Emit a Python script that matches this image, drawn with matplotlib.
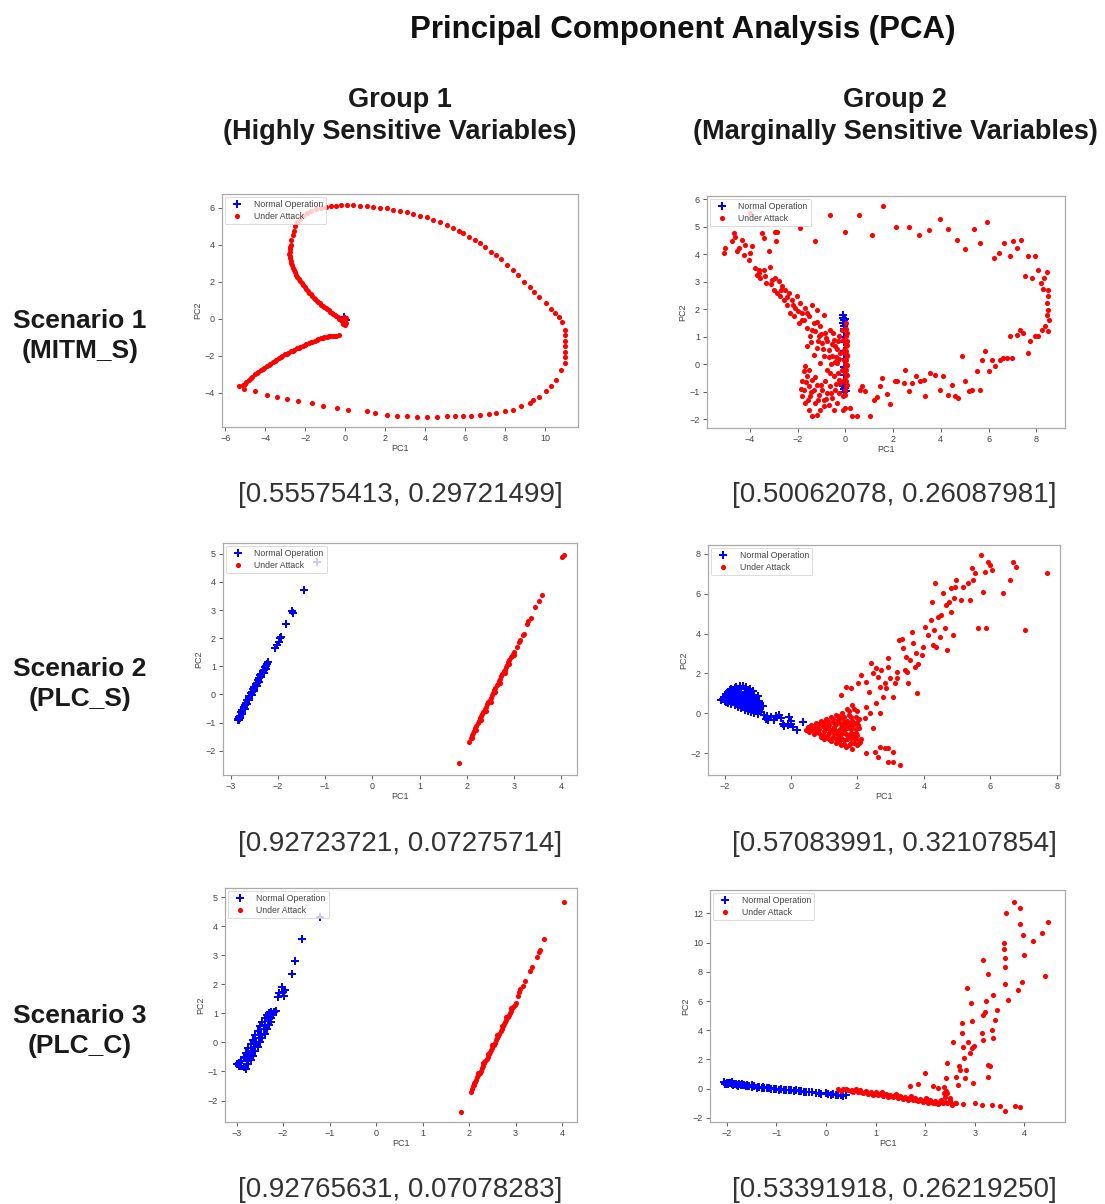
import matplotlib
matplotlib.use("Agg")
import matplotlib.pyplot as plt

plt.rcParams['font.family'] = ['Liberation Sans', 'DejaVu Sans']

W, H = 1105, 1204

title = "Principal Component Analysis (PCA)"
col_titles = ["Group 1\n(Highly Sensitive Variables)", "Group 2\n(Marginally Sensitive Variables)"]
row_titles = ["Scenario 1\n(MITM_S)", "Scenario 2\n(PLC_S)", "Scenario 3\n(PLC_C)"]
variance = [["[0.55575413, 0.29721499]", "[0.50062078, 0.26087981]"],
            ["[0.92723721, 0.07275714]", "[0.57083991, 0.32107854]"],
            ["[0.92765631, 0.07078283]", "[0.53391918, 0.26219250]"]]
legend_labels = ["Normal Operation", "Under Attack"]

# ---------------- Scenario 1, Group 1 ----------------
s1g1_normal_x = [0.0, -0.05, 0.02]
s1g1_normal_y = [0.0, 0.1, -0.1]
s1g1_attack = [
    (-0.05,-0.3),(-0.15,-0.15),(-0.3,0.0),(-0.45,0.12),(-0.6,0.25),(-0.75,0.38),(-0.9,0.5),(-1.05,0.62),
    (-1.2,0.75),(-1.35,0.9),(-1.5,1.05),(-1.65,1.22),(-1.8,1.4),(-1.95,1.6),(-2.1,1.8),(-2.25,2.02),
    (-2.4,2.25),(-2.52,2.5),(-2.62,2.75),(-2.7,3.0),(-2.76,3.25),(-2.8,3.5),(-2.78,3.75),(-2.74,4.0),
    (-2.7,4.25),(-2.64,4.5),(-2.58,4.75),(-2.5,5.0),(-2.4,5.2),(-2.25,5.4),(-2.1,5.55),(-1.9,5.7),
    (-1.7,5.82),(-1.45,5.92),(-1.2,6.0),(-0.95,6.05),(-0.7,6.08),(-0.45,6.1),(-0.2,6.12),(0.07,6.13),
    (-0.22,-0.08),(-0.38,0.06),(-0.52,0.19),(-0.68,0.31),(-0.82,0.44),(-0.98,0.56),(-1.12,0.69),
    (-1.28,0.82),(-1.42,0.97),(-1.58,1.13),(-1.72,1.31),(-1.88,1.5),(-2.02,1.7),(-2.18,1.91),(-2.32,2.13),
    (-2.46,2.37),(-2.57,2.62),(-2.66,2.87),(-2.73,3.12),(-2.79,3.38),(-2.79,3.62),(-2.76,3.88),
    (0.0,-0.1),(0.02,0.05),(-0.05,-0.2),(0.0,-0.35),(-0.1,-0.3),(0.03,-0.25),(-0.08,0.08),
    (0.4,6.12),(0.75,6.1),(1.06,6.08),(1.4,6.03),(1.75,6.0),(2.06,5.95),(2.4,5.88),(2.75,5.82),
    (3.06,5.77),(3.4,5.65),(3.75,5.55),(4.06,5.47),(4.4,5.3),(4.75,5.2),(5.06,5.05),(5.4,4.9),
    (5.7,4.72),(5.89,4.6),(6.2,4.42),(6.5,4.22),(6.72,4.06),(7.0,3.85),(7.3,3.62),(7.55,3.43),
    (7.8,3.2),(8.1,2.9),(8.39,2.63),(8.65,2.35),(8.95,2.0),(9.22,1.73),(9.45,1.45),(9.7,1.15),
    (10.05,0.83),(10.3,0.5),(10.5,0.3),(10.7,0.1),(10.85,-0.2),(10.96,-0.61),(11.0,-0.9),(11.0,-1.2),
    (11.0,-1.51),(11.0,-1.8),(10.96,-2.1),(10.96,-2.41),(10.8,-2.8),(10.55,-3.31),(10.3,-3.65),
    (10.05,-3.94),(9.7,-4.25),(9.4,-4.4),(9.22,-4.57),(8.8,-4.75),(8.39,-4.93),(8.0,-5.0),(7.55,-5.11),
    (7.2,-5.15),(6.72,-5.2),(6.3,-5.25),(5.89,-5.29),(5.5,-5.27),(5.06,-5.29),(4.6,-5.3),(4.06,-5.32),
    (3.6,-5.3),(3.06,-5.29),(2.6,-5.25),(2.06,-5.2),(1.5,-5.1),(1.06,-5.02),(0.15,-4.93),(-0.43,-4.84),
    (-1.1,-4.75),(-1.68,-4.57),(-2.35,-4.48),(-2.93,-4.35),(-3.43,-4.26),(-3.93,-4.14),(-4.51,-3.94),
    (-5.09,-3.81),(-5.34,-3.67),
    (-5.1,-3.6),(-4.95,-3.45),(-4.8,-3.3),(-4.65,-3.15),(-4.5,-3.02),(-4.35,-2.9),(-4.2,-2.78),
    (-4.05,-2.66),(-3.9,-2.55),(-3.75,-2.44),(-3.6,-2.33),(-3.45,-2.23),(-3.3,-2.13),(-3.15,-2.03),
    (-3.0,-1.94),(-2.85,-1.85),(-2.7,-1.77),(-2.55,-1.69),(-2.4,-1.61),(-2.25,-1.53),(-2.1,-1.46),
    (-1.95,-1.39),(-1.8,-1.32),(-1.65,-1.25),(-1.5,-1.19),(-1.35,-1.13),(-1.2,-1.07),(-1.05,-1.02),
    (-0.9,-0.98),(-0.75,-0.95),(-0.6,-0.93),(-0.45,-0.92),(-0.33,-0.9),
    (-5.02,-3.52),(-4.72,-3.22),(-4.42,-2.96),(-4.12,-2.72),(-3.82,-2.5),(-3.52,-2.28),(-3.22,-2.08),
    (-2.92,-1.9),(-2.62,-1.73),(-2.32,-1.57),(-2.02,-1.42),(-1.72,-1.28),(-1.42,-1.16),(-1.12,-1.04),
    (-0.82,-0.96),(-0.52,-0.92),
]

# ---------------- Scenario 1, Group 2 ----------------
s1g2_normal = [
    (-0.08,1.8),(-0.08,1.7),(-0.06,1.6),(-0.08,1.5),(-0.05,1.4),(-0.07,1.3),(-0.05,1.2),(-0.06,1.0),
    (-0.05,0.8),(-0.06,0.5),(-0.05,0.2),(-0.06,-0.1),(-0.05,-0.4),(-0.07,-0.6),(-0.05,-0.7),(-0.08,-0.8),
    (-0.04,-0.9),(-0.06,-1.0),(0.02,-0.95),(0.0,-0.85),(-0.02,1.65),
]
s1g2_attack = [
    (-4.0,5.49),(-2.86,4.82),(-1.88,4.94),(-1.26,4.46),(-0.63,5.43),(-0.03,4.82),(0.56,5.43),(1.12,4.7),
    (1.58,5.73),(2.13,5.0),(2.65,5.0),(3.07,4.7),(3.49,4.88),(3.97,5.27),(4.32,4.92),(4.67,4.5),
    (5.02,4.18),(5.37,4.9),(5.62,4.42),(5.93,5.18),(6.21,3.85),(6.42,4.03),(6.65,4.42),(6.88,3.92),
    (7.02,4.46),(7.21,4.22),(7.35,4.5),(7.53,3.19),(7.67,3.92),(7.81,3.14),(7.95,3.94),(8.09,3.43),
    (8.19,2.95),(8.27,2.73),(8.33,3.14),(8.44,3.34),(8.47,2.71),(8.48,2.47),(8.44,2.22),(8.48,1.98),
    (8.44,1.8),(8.51,1.62),(8.37,1.38),(8.48,1.2),(8.23,1.26),(8.09,1.02),(7.95,1.02),(7.74,0.83),
    (7.67,0.41),(7.46,1.14),(7.32,1.26),(7.18,1.08),(6.97,0.23),(6.88,1.02),(6.77,0.23),(6.62,0.23),
    (6.49,0.17),(6.28,-0.07),(6.14,0.17),(6.0,-0.25),(5.86,0.47),(5.72,0.17),(5.51,-0.25),(5.65,-0.92),
    (5.3,-0.92),(5.16,-0.98),(5.02,-0.62),(4.88,0.29),(4.74,-1.22),(4.6,-1.16),(4.46,-0.74),(4.32,-1.1),
    (4.11,-0.44),(3.97,-0.92),(3.77,-0.37),(3.56,-0.31),(3.35,-1.14),(3.28,-0.56),(3.14,-0.62),
    (2.97,-0.44),(2.79,-0.68),(2.65,-0.98),(2.44,-0.68),(2.51,-0.19),(2.16,-0.62),(2.09,-0.62),
    (1.88,-1.44),(1.74,-1.06),(1.53,-0.5),(1.46,-0.77),(1.32,-1.18),(1.19,-1.31),(1.05,-1.89),
    (0.84,-0.98),(0.7,-0.77),(0.6,-0.92),(0.49,-1.89),(0.28,-1.86),(0.21,-1.58),(0.0,-1.58),(-0.1,-1.64),
    (-5.09,4.04),(-5.02,4.22),(-4.74,4.46),(-4.67,4.76),(-4.6,4.64),(-4.53,4.1),(-4.46,4.22),(-4.32,4.52),
    (-4.25,3.98),(-4.18,4.34),(-4.04,3.79),(-3.97,4.04),(-3.91,4.28),(-3.77,3.49),(-3.7,3.25),(-3.63,3.43),
    (-3.56,3.13),(-3.49,4.76),(-3.42,4.58),(-3.42,3.43),(-3.31,2.95),(-3.21,4.1),(-3.14,3.55),(-3.07,3.07),
    (-3.0,2.71),(-2.93,4.82),(-2.89,4.46),(-2.86,2.59),(-2.79,3.01),(-2.72,2.47),(-2.65,2.83),(-2.58,2.35),
    (-2.51,2.71),(-2.44,2.16),(-2.37,2.59),(-2.3,1.86),(-2.23,2.35),(-2.16,1.74),(-2.09,2.04),(-2.02,2.47),
    (-1.95,1.5),(-1.88,2.22),(-1.81,1.86),(-1.74,1.62),(-1.67,2.04),(-1.6,1.32),(-1.53,1.74),(-1.46,1.02),
    (-1.39,2.16),(-1.32,1.5),(-1.26,1.2),(-1.19,1.98),(-1.12,1.02),(-1.05,1.38),(-0.98,0.77),(-0.91,1.8),
    (-0.84,1.14),(-0.77,0.83),(-0.7,0.53),(-0.63,1.26),(-0.56,0.29),(-0.49,0.89),(-0.42,0.65),(-0.35,0.05),
    (-0.28,1.02),(-0.21,0.41),(-1.6,0.65),(-1.32,0.35),(-1.05,0.05),(-0.77,-0.19),(-0.49,-0.44),
    (-0.21,-0.68),(-0.63,-0.31),(-0.9,0.3),(-0.6,0.0),(-0.4,0.25),(-1.2,0.6),(-0.3,-0.3),
    (-3.6,3.3),(-3.35,3.2),(-3.1,2.9),(-2.95,3.15),(-2.7,2.7),(-2.45,2.45),(-2.2,2.15),(-2.0,1.95),
    (-1.8,1.6),(-1.6,1.85),(-1.4,1.25),(-1.2,1.55),(-1.0,1.1),(-0.8,0.95),(-0.55,0.75),(-0.35,0.55),
    (-0.25,0.2),(-0.45,0.1),(-0.7,0.25),(-0.95,0.55),(-1.15,0.85),(-1.45,0.8),(-0.5,1.15),(-0.3,0.85),
    (-1.74,-0.25),(-1.81,-0.62),(-1.74,-0.92),(-1.81,-1.16),(-1.67,-1.4),(-1.6,-0.44),(-1.53,-0.8),
    (-1.46,-1.16),(-1.39,-0.56),(-1.32,-0.92),(-1.26,-1.4),(-1.19,-0.74),(-1.12,-1.1),(-1.05,-1.64),
    (-0.98,-0.92),(-0.91,-1.28),(-0.84,-0.62),(-0.77,-1.04),(-0.7,-1.46),(-0.63,-0.8),(-0.56,-1.22),
    (-0.49,-1.64),(-0.42,-0.92),(-0.35,-1.4),(-0.28,-0.56),(-1.39,-1.89),(-1.19,-1.83),(-0.91,-1.52),
    (-1.53,-1.64),(-1.7,-0.05),(-1.5,-0.2),(-1.85,-0.9),(-1.65,-0.65),(-1.45,-1.0),(-1.25,-0.45),
    (-1.0,-0.75),(-0.8,-1.25),(-0.6,-1.05),(-0.4,-0.7),(-0.25,-1.05),(-1.55,-1.3),(-1.15,-1.3),
    (-0.14,1.26),(-0.1,0.89),(-0.07,0.53),(-0.04,0.17),(-0.12,-0.19),(-0.07,-0.56),(-0.03,-0.92),
    (-0.1,-1.16),(0.01,1.5),(0.04,1.02),(0.03,0.65),(0.06,0.29),(0.01,-0.07),(0.04,-0.44),(0.03,-0.8),
    (0.0,-1.1),(0.07,1.14),(0.08,0.71),(0.07,0.35),(0.08,-0.01),(0.07,-0.38),(0.08,-0.74),(-0.02,1.3),
    (0.0,0.8),(-0.02,0.4),(0.0,0.0),(-0.02,-0.35),(0.0,-0.6),(0.05,1.3),(0.05,0.5),(0.05,-0.2),
    (0.02,0.15),(0.06,0.85),(0.04,-0.6),
]

# ---------------- Scenario 2, Group 1 ----------------
s2g1_normal = [
    (-2.85,-0.92),(-2.83,-0.8),(-2.8,-0.75),(-2.78,-0.62),(-2.75,-0.55),(-2.72,-0.45),(-2.7,-0.36),
    (-2.67,-0.3),(-2.65,-0.2),(-2.62,-0.12),(-2.6,-0.05),(-2.57,0.05),(-2.55,0.1),(-2.52,0.2),(-2.5,0.26),
    (-2.47,0.36),(-2.45,0.42),(-2.42,0.52),(-2.4,0.57),(-2.37,0.68),(-2.35,0.73),(-2.32,0.82),(-2.3,0.88),
    (-2.27,0.97),(-2.25,1.02),(-2.22,1.1),(-2.2,1.15),(-2.8,-0.85),(-2.75,-0.68),(-2.7,-0.5),(-2.65,-0.35),
    (-2.6,-0.18),(-2.55,-0.02),(-2.5,0.14),(-2.45,0.3),(-2.4,0.45),(-2.35,0.62),(-2.3,0.78),(-2.25,0.92),
    (-2.84,-0.88),(-2.82,-0.9),
    (-2.05,1.65),(-2.02,1.75),(-1.98,1.85),(-1.95,2.0),(-1.93,2.05),(-1.82,2.5),(-1.69,2.95),(-1.67,2.9),
    (-1.45,3.72),(-1.18,4.72),
]
s2g1_attack = [
    (2.05,-1.68),(2.08,-1.55),(2.1,-1.45),(2.13,-1.38),(2.15,-1.3),(2.18,-1.2),(2.2,-1.12),(2.23,-1.02),
    (2.25,-0.95),(2.28,-0.85),(2.3,-0.78),(2.33,-0.68),(2.35,-0.62),(2.38,-0.52),(2.4,-0.45),(2.43,-0.35),
    (2.45,-0.28),(2.48,-0.18),(2.5,-0.12),(2.53,-0.02),(2.55,0.05),(2.58,0.15),(2.6,0.22),(2.63,0.32),
    (2.65,0.38),(2.68,0.48),(2.7,0.55),(2.73,0.65),(2.75,0.72),(2.78,0.82),(2.8,0.88),(2.83,0.98),
    (2.85,1.05),(2.88,1.15),(2.9,1.22),(2.93,1.32),(2.95,1.38),(2.98,1.45),(3.0,1.52),
    (2.1,-1.55),(2.2,-1.25),(2.3,-0.9),(2.4,-0.58),(2.5,-0.25),(2.6,0.08),(2.7,0.42),(2.8,0.75),
    (2.9,1.08),(3.0,1.4),
    (3.05,1.7),(3.1,1.85),(3.13,1.95),(3.18,2.1),(3.2,2.15),(3.27,2.5),(3.3,2.62),(3.35,2.72),(3.45,3.1),
    (3.52,3.33),(3.6,3.55),(4.02,4.9),(4.05,4.97),(1.83,-2.45),
]

# ---------------- Scenario 2, Group 2 ----------------
s2g2_normal = [
    (-2.1,0.65),(-2.0,0.6),(-2.0,0.8),(-1.95,0.95),(-1.9,0.5),(-1.9,0.75),(-1.9,1.05),(-1.85,0.65),
    (-1.85,0.9),(-1.85,1.15),(-1.8,0.45),(-1.8,0.8),(-1.8,1.2),(-1.75,0.6),(-1.75,1.0),(-1.7,0.4),
    (-1.7,0.75),(-1.7,1.25),(-1.65,0.55),(-1.65,0.95),(-1.65,1.3),(-1.6,0.3),(-1.6,0.7),(-1.6,1.1),
    (-1.55,0.5),(-1.55,0.9),(-1.55,1.35),(-1.5,0.25),(-1.5,0.65),(-1.5,1.2),(-1.45,0.45),(-1.45,0.85),
    (-1.45,1.35),(-1.4,0.15),(-1.4,0.6),(-1.4,1.05),(-1.35,0.35),(-1.35,0.8),(-1.35,1.3),(-1.3,0.1),
    (-1.3,0.55),(-1.3,1.0),(-1.25,0.3),(-1.25,0.75),(-1.25,1.2),(-1.2,0.05),(-1.2,0.5),(-1.2,0.95),
    (-1.15,0.25),(-1.15,0.7),(-1.15,1.1),(-1.1,0.0),(-1.1,0.45),(-1.1,0.9),(-1.05,0.2),(-1.05,0.65),
    (-1.0,-0.05),(-1.0,0.4),(-1.0,0.85),(-0.95,0.15),(-0.95,0.6),(-0.9,0.05),(-0.9,0.35),(-2.05,0.7),
    (-1.95,0.55),(-1.75,0.85),(-1.6,0.45),(-1.5,0.95),(-1.4,0.35),(-1.3,0.75),(-1.2,0.3),(-1.1,0.65),
    (-0.85,0.35),(-0.8,-0.1),(-0.75,-0.3),(-0.72,-0.15),(-0.7,-0.35),(-0.6,-0.2),(-0.5,-0.35),
    (-0.45,-0.15),(-0.35,-0.1),(-0.3,-0.25),(-0.25,-0.55),(-0.2,-0.65),(-0.05,-0.2),(0.0,-0.4),
    (0.0,-0.55),(0.05,-0.7),(0.18,-0.85),(0.35,-0.45),(-0.1,-0.6),
]
s2g2_attack = [
    (0.45,-0.85),(0.5,-0.7),(0.55,-0.95),(0.6,-0.6),(0.65,-0.85),(0.7,-1.05),(0.75,-0.5),(0.8,-0.75),
    (0.85,-1.0),(0.9,-1.2),(0.9,-0.4),(0.95,-0.65),(1.0,-0.9),(1.0,-1.3),(1.05,-0.3),(1.1,-0.55),
    (1.1,-1.1),(1.15,-0.8),(1.2,-1.4),(1.2,-0.2),(1.25,-0.45),(1.3,-1.0),(1.3,-0.7),(1.35,-1.5),
    (1.35,-0.1),(1.4,-0.35),(1.45,-0.85),(1.45,-1.2),(1.5,-0.55),(1.5,-1.6),(1.55,0.0),(1.55,-0.25),
    (1.6,-1.0),(1.6,-1.35),(1.65,-0.7),(1.65,-1.7),(1.7,-0.4),(1.7,0.2),(1.75,-1.15),(1.75,-0.1),
    (1.8,-1.5),(1.8,-0.8),(1.85,-1.8),(1.85,0.4),(1.9,-0.55),(1.9,-1.25),(1.95,-0.2),(1.95,-1.0),
    (2.0,-1.6),(2.0,0.1),(2.05,-0.75),(2.1,-1.3),(0.6,-0.75),(0.8,-0.9),(1.0,-0.6),(1.2,-0.9),
    (1.4,-1.1),(1.6,-0.45),(1.8,-0.2),(0.7,-0.7),(1.1,-0.4),
    (0.55,-0.8),(0.65,-0.65),(0.75,-0.95),(0.85,-0.55),(0.85,-0.8),(0.95,-1.1),(0.95,-0.45),(1.05,-0.75),
    (1.05,-1.2),(1.15,-0.6),(1.15,-1.0),(1.15,-1.3),(1.25,-0.8),(1.25,-1.2),(1.25,-0.3),(1.35,-0.55),
    (1.35,-0.9),(1.35,-1.3),(1.4,-0.15),(1.45,-0.45),(1.45,-1.45),(1.5,-0.75),(1.5,-1.05),(1.55,-1.3),
    (1.55,-0.6),(1.6,-0.2),(1.6,-0.85),(1.6,-1.55),(1.65,-1.05),(1.65,-0.5),(1.7,-1.3),(1.7,-0.75),
    (1.75,-0.55),(1.75,-1.6),(1.8,-1.0),(1.8,-1.25),(1.85,-0.4),(1.85,-0.65),(1.9,-1.05),(1.9,-1.5),
    (1.95,-0.8),(1.95,-1.3),(2.0,-0.45),(2.0,-1.1),(2.05,-1.5),(2.05,-0.3),(1.75,0.1),(1.9,0.2),
    (1.52,0.92),(1.67,1.34),(1.82,1.25),(2.02,1.5),(2.12,1.92),(2.27,1.59),(2.35,1.09),(2.42,2.54),
    (2.47,2.01),(2.55,2.26),(2.62,1.84),(2.67,1.34),(2.72,2.17),(2.77,0.84),(2.82,1.5),(2.87,1.25),
    (2.92,2.34),(2.92,2.76),(2.97,1.76),(3.08,0.84),(3.13,1.5),(3.18,1.76),(3.2,2.09),(3.26,3.68),
    (3.33,3.71),(3.38,3.26),(3.43,2.17),(3.46,2.84),(3.5,2.09),(3.53,1.5),(3.58,2.68),(3.63,4.1),
    (3.68,3.51),(3.73,2.34),(3.76,3.01),(3.78,1.0),(3.83,2.47),(3.93,2.93),(3.98,3.34),(4.03,4.31),
    (4.13,3.93),(4.23,4.68),(4.26,5.6),(4.28,3.43),(4.3,4.18),(4.33,6.56),(4.38,3.34),(4.43,4.82),
    (4.48,3.85),(4.53,4.93),(4.58,6.02),(4.63,4.26),(4.66,5.43),(4.7,3.18),(4.76,5.6),(4.81,5.1),
    (4.83,6.27),(4.88,3.93),(4.9,5.77),(4.93,6.35),(4.98,6.69),(5.13,5.69),(5.19,6.35),(5.34,6.52),
    (5.39,5.69),(5.44,7.27),(5.49,6.69),(5.54,7.02),(5.64,4.26),(5.72,7.94),(5.79,6.1),(5.84,7.11),
    (5.87,4.26),(5.94,7.61),(5.99,7.44),(6.04,7.19),(6.39,6.02),(6.59,6.69),(6.67,7.61),(6.79,7.36),
    (7.05,4.18),(7.7,7.02),
    (2.07,-1.42),(2.27,-2.0),(2.52,-1.92),(2.62,-2.17),(2.67,-1.67),(2.82,-1.76),(2.92,-1.76),
    (2.92,-2.42),(3.08,-2.42),(3.08,-1.92),(3.28,-2.59),(2.02,-0.59),(2.22,-0.25),(2.27,0.33),
    (2.47,-0.75),(2.57,0.5),(2.37,0.0),(2.67,0.0),
]

# ---------------- Scenario 3, Group 1 ----------------
s3g1_normal = [
    (-3.0,-0.75),(-2.95,-0.8),(-2.9,-0.65),(-2.85,-0.85),(-2.85,-0.5),(-2.8,-0.9),(-2.8,-0.35),
    (-2.78,-0.65),(-2.75,-0.2),(-2.75,-0.75),(-2.72,-0.45),(-2.7,-0.05),(-2.7,-0.6),(-2.68,-0.3),
    (-2.65,0.1),(-2.65,-0.45),(-2.62,-0.15),(-2.6,0.25),(-2.6,-0.3),(-2.58,0.0),(-2.55,0.4),(-2.55,-0.15),
    (-2.52,0.15),(-2.5,0.55),(-2.5,0.0),(-2.48,0.3),(-2.45,0.7),(-2.45,0.15),(-2.42,0.45),(-2.4,0.85),
    (-2.4,0.3),(-2.38,0.6),(-2.35,0.95),(-2.35,0.45),(-2.32,0.75),(-2.3,1.0),(-2.3,0.6),(-2.27,0.85),
    (-2.25,1.05),(-2.25,0.7),(-2.22,0.95),(-2.2,1.05),(-2.9,-0.8),(-2.8,-0.55),(-2.7,-0.3),(-2.6,-0.05),
    (-2.5,0.25),(-2.4,0.55),(-2.3,0.8),(-2.95,-0.7),(-2.75,-0.45),
    (-2.15,1.1),(-2.12,1.55),(-2.08,1.7),(-2.03,1.92),(-2.0,1.75),(-1.95,1.8),(-1.98,1.6),(-1.8,2.35),
    (-1.75,2.8),(-1.6,3.58),(-1.2,4.32),
]
s3g1_attack = [
    (2.03,-1.72),(2.06,-1.6),(2.08,-1.5),(2.1,-1.45),(2.13,-1.35),(2.15,-1.3),(2.18,-1.2),(2.2,-1.12),
    (2.23,-1.05),(2.25,-0.98),(2.28,-0.88),(2.3,-0.8),(2.33,-0.72),(2.35,-0.65),(2.38,-0.56),(2.4,-0.5),
    (2.43,-0.4),(2.45,-0.33),(2.48,-0.25),(2.5,-0.18),(2.53,-0.08),(2.55,-0.02),(2.58,0.08),(2.6,0.15),
    (2.63,0.23),(2.65,0.3),(2.68,0.38),(2.7,0.46),(2.73,0.55),(2.75,0.62),(2.78,0.7),(2.8,0.78),
    (2.83,0.87),(2.85,0.93),(2.88,1.02),(2.9,1.08),(2.93,1.17),(2.95,1.22),(2.98,1.3),(3.0,1.35),
    (2.1,-1.38),(2.2,-1.05),(2.3,-0.72),(2.4,-0.4),(2.5,-0.08),(2.6,0.25),(2.7,0.56),(2.8,0.88),(2.9,1.2),
    (3.05,1.6),(3.08,1.75),(3.1,1.85),(3.15,1.95),(3.2,2.1),(3.3,2.45),(3.35,2.6),(3.45,2.95),(3.5,3.1),
    (3.52,3.2),(3.62,3.55),(4.05,4.85),(1.83,-2.4),
]

# ---------------- Scenario 3, Group 2 ----------------
s3g2_normal = [
    (-2.05,0.45),(-2.03,0.35),(-2.0,0.42),(-1.98,0.3),(-1.95,0.38),(-1.9,0.33),(-1.88,0.25),(-1.85,0.35),
    (-1.8,0.28),(-1.78,0.2),(-1.75,0.3),(-1.7,0.22),(-1.65,0.27),(-1.62,0.15),(-1.6,0.22),(-1.55,0.18),
    (-1.5,0.12),(-1.45,0.15),(-1.4,0.08),(-1.35,0.12),(-1.3,0.05),(-1.25,0.08),(-1.2,0.02),(-1.15,0.05),
    (-1.1,-0.02),(-1.0,-0.02),(-0.95,-0.06),(-0.9,-0.05),(-0.8,-0.1),(-0.75,-0.08),(-0.65,-0.15),
    (-0.55,-0.15),(-0.45,-0.22),(-0.35,-0.22),(-0.2,-0.3),(-0.1,-0.35),(0.0,-0.32),(0.1,-0.4),(0.2,-0.4),
    (0.3,-0.45),(0.4,-0.42),(0.35,-0.5),(-2.0,0.3),(-1.9,0.45),(-1.7,0.35),(-1.5,0.25),
    (-1.92,0.4),(-1.82,0.32),(-1.72,0.28),(-1.58,0.2),(-1.48,0.18),(-1.38,0.12),(-1.28,0.1),(-1.18,0.05),
    (-1.05,0.0),(-0.85,-0.07),(-0.7,-0.12),(-0.6,-0.12),(-0.5,-0.18),(-0.4,-0.2),(-0.28,-0.25),
    (-0.15,-0.3),(0.05,-0.35),(0.15,-0.38),(0.25,-0.42),
]
s3g2_attack = [
    (0.25,-0.05),(0.3,-0.15),(0.35,0.0),(0.45,-0.1),(0.55,-0.2),(0.6,-0.05),(0.7,-0.2),(0.75,-0.3),
    (0.8,-0.15),(0.85,-0.35),(0.9,-0.25),(0.95,-0.4),(1.0,-0.2),(1.05,-0.45),(1.1,-0.3),(1.15,-0.5),
    (1.2,-0.35),(1.25,-0.55),(1.3,-0.4),(1.35,-0.6),(1.4,-0.45),(1.45,-0.65),(1.5,-0.5),(1.55,-0.7),
    (1.6,-0.55),(1.65,-0.75),(1.7,-0.6),(1.75,-0.8),(1.8,-0.65),(1.85,-0.85),(1.9,-0.7),(1.95,-0.9),
    (2.0,-0.75),(2.05,-0.95),(2.1,-0.8),(2.15,-1.0),(2.2,-0.85),(2.25,-1.05),(2.3,-0.85),(2.35,-1.0),
    (2.4,-0.9),(2.38,-0.3),(2.4,-0.6),(2.42,-0.15),(2.45,-1.0),(2.5,-0.8),(2.55,-1.1),(2.6,-0.95),
    (1.0,-0.35),(1.3,-0.5),(1.6,-0.65),(1.9,-0.8),(2.2,-0.95),(0.5,-0.15),(0.65,-0.25),
    (0.4,-0.05),(0.52,-0.12),(0.68,-0.12),(0.78,-0.22),(0.92,-0.35),(1.08,-0.38),(1.22,-0.45),
    (1.38,-0.52),(1.52,-0.6),(1.68,-0.68),(1.82,-0.75),(1.98,-0.82),(2.12,-0.9),(2.28,-0.95),
    (1.12,-0.25),(1.42,-0.38),(1.72,-0.5),(2.02,-0.65),(2.32,-0.75),
    (1.69,0.16),(1.86,0.32),(2.0,1.07),(2.16,0.16),(2.26,0.05),(2.37,0.09),(2.42,0.73),(2.43,1.75),
    (2.57,3.19),(2.63,0.77),(2.67,0.27),(2.68,1.53),(2.7,1.3),(2.74,3.8),(2.74,4.49),(2.77,2.82),
    (2.79,2.1),(2.8,0.73),(2.82,1.3),(2.84,6.88),(2.87,3.23),(2.9,2.44),(2.92,5.85),(2.94,4.6),
    (2.95,2.78),(2.97,0.39),(2.99,2.89),(3.14,3.8),(3.16,5.06),(3.17,3.35),(3.17,8.82),(3.2,5.28),
    (3.23,5.97),(3.26,7.84),(3.26,0.77),(3.27,1.64),(3.31,1.53),(3.36,6.42),(3.34,4.03),(3.37,3.46),
    (3.41,4.72),(3.45,5.4),(3.58,9.95),(3.59,9.54),(3.6,8.97),(3.6,8.36),(3.61,7.15),(3.64,12.05),
    (3.68,6.08),(3.79,12.8),(3.88,6.77),(3.91,12.35),(3.91,11.25),(3.95,7.33),(3.98,10.52),(4.0,9.16),
    (4.17,10.11),(4.35,10.68),(4.42,7.72),(4.48,11.41),
    (2.5,-0.91),(2.63,-0.98),(2.77,-1.03),(3.0,-0.98),(3.14,-1.09),(3.34,-1.14),(3.51,-1.21),
    (3.61,-1.55),(3.81,-1.21),(3.92,-1.25),(2.5,-0.64),(2.43,-0.3),
]

panels = [
    # (normal, attack, pixel box (l, t, r, b), xlim, ylim, xticks, yticks)
    (list(zip(s1g1_normal_x, s1g1_normal_y)), s1g1_attack, (222, 194, 578, 427),
     (-6.17, 11.63), (-5.86, 6.73), [-6, -4, -2, 0, 2, 4, 6, 8, 10], [-4, -2, 0, 2, 4, 6]),
    (s1g2_normal, s1g2_attack, (707, 196, 1065, 428),
     (-5.79, 9.2), (-2.31, 6.11), [-4, -2, 0, 2, 4, 6, 8], [-2, -1, 0, 1, 2, 3, 4, 5, 6]),
    (s2g1_normal, s2g1_attack, (223, 543, 577, 775),
     (-3.16, 4.33), (-2.86, 5.38), [-3, -2, -1, 0, 1, 2, 3, 4], [-2, -1, 0, 1, 2, 3, 4, 5]),
    (s2g2_normal, s2g2_attack, (708, 545, 1060, 775),
     (-2.5, 8.1), (-3.09, 8.44), [-2, 0, 2, 4, 6, 8], [-2, 0, 2, 4, 6, 8]),
    (s3g1_normal, s3g1_attack, (225, 888, 577, 1122),
     (-3.25, 4.32), (-2.74, 5.32), [-3, -2, -1, 0, 1, 2, 3, 4], [-2, -1, 0, 1, 2, 3, 4, 5]),
    (s3g2_normal, s3g2_attack, (710, 890, 1065, 1122),
     (-2.34, 4.82), (-2.28, 13.6), [-2, -1, 0, 1, 2, 3, 4], [-2, 0, 2, 4, 6, 8, 10, 12]),
]

fig = plt.figure(figsize=(W / 100, H / 100), dpi=100)

for normal, attack, (l, t, r, b), xl, yl, xt, yt in panels:
    ax = fig.add_axes([l / W, 1 - b / H, (r - l) / W, (b - t) / H])
    nx, ny = zip(*normal)
    axx, ayy = zip(*attack)
    ax.plot(nx, ny, linestyle='none', marker='P', markersize=5.2, color='blue',
            markeredgewidth=0, label=legend_labels[0])
    ax.plot(axx, ayy, linestyle='none', marker='o', markersize=3.7, color='red',
            markeredgewidth=0, label=legend_labels[1])
    ax.set_xlim(*xl)
    ax.set_ylim(*yl)
    ax.set_xticks(xt)
    ax.set_yticks(yt)
    ax.tick_params(labelsize=6.5, length=3, width=0.6, colors='#444444', pad=2)
    for sp in ax.spines.values():
        sp.set_color('#aaaaaa')
        sp.set_linewidth(0.9)
    ax.set_xlabel("PC1", fontsize=6.5, color='#444444', labelpad=1)
    ax.set_ylabel("PC2", fontsize=6.5, color='#444444', labelpad=2)
    leg = ax.legend(loc='upper left', fontsize=6.3, frameon=True, borderpad=0.4,
                    handletextpad=0.9, labelspacing=0.3, markerscale=1.0,
                    borderaxespad=0.3)
    leg.get_frame().set_linewidth(0.6)
    for txt in leg.get_texts():
        txt.set_color('#444444')

fig.text(683 / W, 1 - 30 / H, title, ha='center', va='center', fontsize=22.5,
         fontweight='bold', color='#111111')
for cx, ct in zip([400, 895], col_titles):
    fig.text(cx / W, 1 - 116 / H, ct, ha='center', va='center', fontsize=19.5,
             fontweight='bold', color='#1a1a1a', linespacing=1.3)
for cy, rt in zip([336, 684, 1031], row_titles):
    fig.text(80 / W, 1 - cy / H, rt, ha='center', va='center', fontsize=19,
             fontweight='bold', color='#1a1a1a', linespacing=1.3)
for ri, cy in enumerate([495, 844, 1190]):
    for ci, cx in enumerate([400, 894]):
        fig.text(cx / W, 1 - cy / H, variance[ri][ci], ha='center', va='center',
                 fontsize=20, color='#333333')

fig.savefig("out.png", dpi=100)
